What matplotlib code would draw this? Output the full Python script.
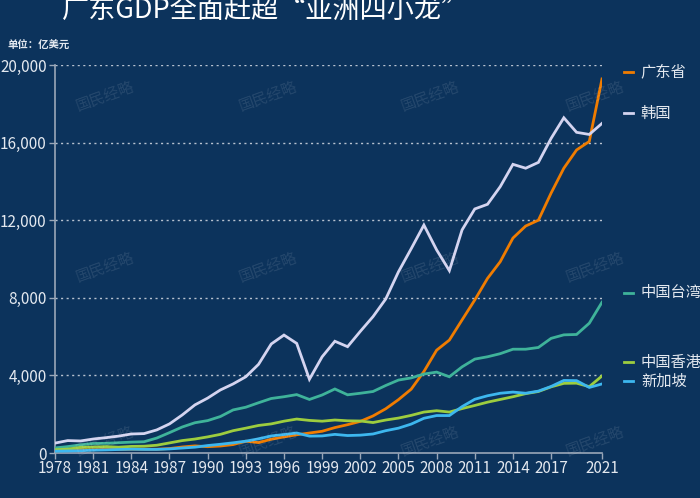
import matplotlib
matplotlib.use("Agg")
import matplotlib.pyplot as plt
from matplotlib.transforms import blended_transform_factory

plt.rcParams["font.family"] = ["Noto Sans CJK SC", "DejaVu Sans"]

BG = "#0c335c"
TEXT = "#e3e8ef"
AXIS = "#9aa7b8"

years = list(range(1978, 2022))

guangdong = [110, 134, 166, 170, 181, 186, 197, 197, 194, 229,
             310, 367, 325, 360, 435, 610, 535, 710, 830, 940,
             1030, 1120, 1310, 1460, 1630, 1910, 2280, 2750, 3290, 4200,
             5300, 5820, 6860, 7890, 9000, 9860, 11080, 11700, 12000, 13400,
             14680, 15620, 16060, 19280]
korea = [510, 640, 620, 720, 790, 870, 980, 1000, 1190, 1500,
         1960, 2480, 2830, 3250, 3560, 3930, 4570, 5620, 6080, 5650,
         3800, 4960, 5760, 5480, 6270, 7030, 7940, 9340, 10530, 11750,
         10470, 9400, 11500, 12580, 12820, 13730, 14880, 14680, 14980, 16220,
         17280, 16530, 16420, 16990]
taiwan = [260, 330, 420, 490, 500, 530, 560, 580, 770, 1050,
          1340, 1560, 1670, 1880, 2220, 2360, 2590, 2810, 2900, 3010,
          2760, 2990, 3300, 3000, 3080, 3170, 3480, 3760, 3870, 4070,
          4170, 3930, 4440, 4840, 4960, 5120, 5350, 5350, 5440, 5910,
          6090, 6110, 6690, 7770]
hongkong = [170, 200, 290, 310, 330, 300, 340, 350, 400, 520,
            640, 720, 830, 960, 1150, 1280, 1420, 1500, 1640, 1750,
            1680, 1640, 1700, 1660, 1650, 1570, 1700, 1800, 1940, 2110,
            2180, 2110, 2290, 2450, 2620, 2760, 2900, 3060, 3170, 3410,
            3590, 3600, 3420, 3970]
singapore = [90, 105, 120, 145, 160, 180, 195, 185, 185, 210,
             255, 300, 385, 450, 525, 610, 730, 880, 950, 1030,
             870, 880, 960, 900, 920, 980, 1150, 1280, 1490, 1790,
             1930, 1930, 2390, 2770, 2950, 3080, 3140, 3080, 3190, 3430,
             3740, 3730, 3380, 3560]

series = [
    ("广东省", guangdong, "#f07c00"),
    ("韩国", korea, "#d4d4f0"),
    ("中国台湾", taiwan, "#3fb39a"),
    ("中国香港", hongkong, "#9dcd3f"),
    ("新加坡", singapore, "#3db7ef"),
]
# label anchor heights (data units) for the right-hand legend
label_y = [19640, 17530, 8250, 4690, 3710]

x_ticks = [1978, 1981, 1984, 1987, 1990, 1993, 1996, 1999, 2002, 2005,
           2008, 2011, 2014, 2017, 2021]
y_ticks = [0, 4000, 8000, 12000, 16000, 20000]
y_tick_labels = ["0", "4,000", "8,000", "12,000", "16,000", "20,000"]


def main() -> None:
    fig = plt.figure(figsize=(7, 4.98), dpi=100, facecolor=BG)
    ax = fig.add_axes([55 / 700, 45 / 498, 547 / 700, 388 / 498], facecolor=BG)

    # watermarks
    for wx in (105, 268, 430, 595):
        for wy in (97, 268, 442):
            fig.text(wx / 700, 1 - wy / 498, "国民经略", color="white", alpha=0.1,
                     fontsize=11, rotation=20, ha="center", va="center")

    for name, vals, color in series:
        ax.plot(years, vals, color=color, linewidth=2, solid_joinstyle="miter", zorder=3)

    ax.set_xlim(1978, 2021)
    ax.set_ylim(0, 20000)
    ax.set_xticks(x_ticks)
    ax.set_xticklabels([str(y) for y in x_ticks])
    ax.set_yticks(y_ticks)
    ax.set_yticklabels(y_tick_labels)
    ax.tick_params(axis="both", colors=AXIS, labelcolor=TEXT, labelsize=11, length=4, width=1)
    ax.tick_params(axis="x", pad=1)
    ax.tick_params(axis="y", pad=2)

    for gy in y_ticks[1:]:
        ax.axhline(gy, color="#b8c2d0", linewidth=1, linestyle=(0, (1.5, 2.5)), zorder=1)

    for side in ("top", "right"):
        ax.spines[side].set_visible(False)
    for side in ("left", "bottom"):
        ax.spines[side].set_color(AXIS)
        ax.spines[side].set_linewidth(1.2)

    trans = blended_transform_factory(ax.transAxes, ax.transData)
    for (name, vals, color), ly in zip(series, label_y):
        ax.plot([1.040, 1.057], [ly, ly], color=color, linewidth=2,
                transform=trans, clip_on=False)
        ax.text(1.071, ly, name, color=TEXT, fontsize=11, va="center", ha="left",
                transform=trans)

    fig.text(62 / 700, 1 - 18 / 498, "广东GDP全面赶超“亚洲四小龙”", color="white",
             fontsize=19.5, ha="left", va="baseline")
    fig.text(7 / 700, 1 - 45 / 498, "单位：亿美元", color=TEXT, fontsize=7.5,
             ha="left", va="center", fontweight="bold")

    fig.savefig("out.png", dpi=100, facecolor=BG)


if __name__ == "__main__":
    main()
